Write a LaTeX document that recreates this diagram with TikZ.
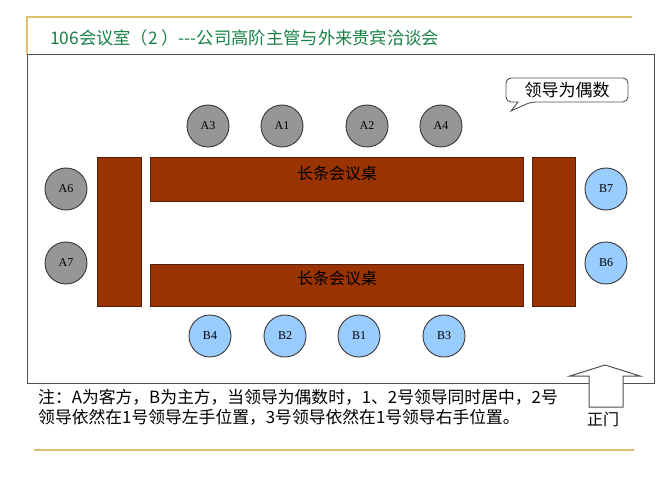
\documentclass[tikz,border=0pt]{standalone}
\usepackage{fontspec}
\setmainfont{Liberation Serif}
\newfontfamily\cjk{Noto Sans CJK SC}
\definecolor{titlegreen}{RGB}{25,128,70}
\definecolor{gold}{RGB}{222,192,110}
\definecolor{tablefill}{RGB}{153,51,0}
\definecolor{tableedge}{RGB}{85,30,10}
\definecolor{guestfill}{RGB}{150,150,150}
\definecolor{hostfill}{RGB}{153,204,255}
\definecolor{seatedge}{RGB}{55,55,60}
\definecolor{frameedge}{RGB}{80,80,80}
\tikzset{
  seat/.style={circle, draw=seatedge, line width=0.9pt, minimum size=42pt, inner sep=0pt, font=\fontsize{12}{12}\selectfont},
  guest/.style={seat, fill=guestfill},
  host/.style={seat, fill=hostfill},
  tablebox/.style={draw=tableedge, fill=tablefill, line width=0.8pt},
  goldline/.style={draw=gold, line width=1.6pt},
  cjktext/.style={font=\cjk\fontsize{16}{20}\selectfont, inner sep=0pt}
}
\begin{document}
\begin{tikzpicture}[x=1pt,y=-1pt]
\useasboundingbox (0,0) rectangle (667,500);
% gold decoration lines
\coordinate (g1) at (27,17);
\coordinate (g2) at (632,17);
\coordinate (g3) at (27,55);
\coordinate (g4) at (34,450);
\coordinate (g5) at (634,450);
\draw[goldline] (g3) -- (g1) -- (g2);
\draw[goldline] (g4) -- (g5);
% title
\node[anchor=west, text=titlegreen, font=\cjk\fontsize{17.3}{20}\selectfont, inner sep=0pt] (title) at (50,38) {106会议室（2 ）---公司高阶主管与外来贵宾洽谈会};
% frame
\draw[draw=frameedge, line width=1pt] (27,55) rectangle (654,383);
% tables
\draw[tablebox] (97,157) rectangle (141,306);
\draw[tablebox] (532,157) rectangle (575,306);
\draw[tablebox] (150,157) rectangle (523,201);
\draw[tablebox] (150,264) rectangle (523,306);
\node[cjktext] (t1) at (337,173) {长条会议桌};
\node[cjktext] (t2) at (337,278) {长条会议桌};
% guest seats
\node[guest] (A3) at (208,126) {A3};
\node[guest] (A1) at (282,126) {A1};
\node[guest] (A2) at (367,126) {A2};
\node[guest] (A4) at (441,126) {A4};
\node[guest] (A6) at (66,189) {A6};
\node[guest] (A7) at (66,263) {A7};
% host seats
\node[host] (B7) at (606,189) {B7};
\node[host] (B6) at (606,263) {B6};
\node[host] (B4) at (210,336) {B4};
\node[host] (B2) at (285,336) {B2};
\node[host] (B1) at (359,336) {B1};
\node[host] (B3) at (444,336) {B3};
% callout
\draw[draw=frameedge, fill=white, line width=0.9pt]
  (506,90) [rounded corners=5pt] -- (506,78) -- (628,78) -- (628,102) -- (531,102)
  [sharp corners] -- (511,111) -- (518,102) [rounded corners=5pt] -- (506,102) -- cycle;
\node[cjktext, font=\cjk\fontsize{17}{20}\selectfont] (call) at (567,90) {领导为偶数};
% door arrow
\draw[draw=frameedge, fill=white, line width=1pt]
  (589,407) -- (589,376) -- (570,376) -- (605,365) -- (640,376) -- (623,376) -- (623,407) -- cycle;
\node[cjktext] (door) at (603,419) {正门};
% note
\node[cjktext, anchor=north west, align=left, font=\cjk\fontsize{16.8}{20}\selectfont] (note) at (38,389)
  {注：A为客方，B为主方，当领导为偶数时，1、2号领导同时居中，2号\\领导依然在1号领导左手位置，3号领导依然在1号领导右手位置。};
\end{tikzpicture}
\end{document}
